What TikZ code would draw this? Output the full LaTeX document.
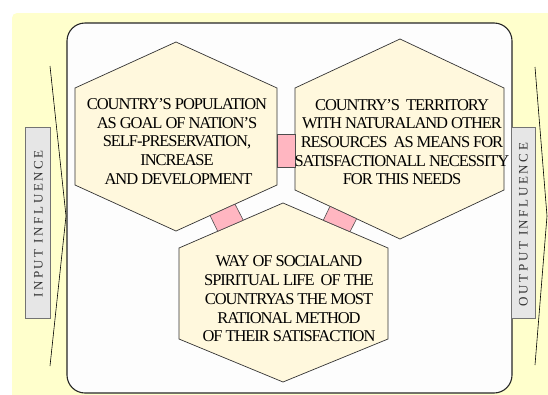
\documentclass[tikz,border=0pt]{standalone}
\usepackage{fontspec}
\setmainfont{Liberation Serif}
\usetikzlibrary{calc}
\definecolor{bgyellow}{RGB}{255,255,204}
\definecolor{hexfill}{RGB}{255,248,221}
\definecolor{boxfill}{RGB}{253,253,253}
\definecolor{pinkfill}{RGB}{255,182,193}
\definecolor{grayfill}{RGB}{230,230,230}
\newfontfamily\hexfont[LetterSpace=-6.5]{Liberation Serif}
\newfontfamily\sidefont[LetterSpace=20]{Liberation Serif}
\begin{document}
\begin{tikzpicture}[x=1pt,y=-1pt,
  hexshape/.style={draw=black!80, line width=0.7pt, fill=hexfill},
  hextext/.style={align=center, font=\hexfont\fontsize{16.5}{18.7}\selectfont, inner sep=0pt},
  link/.style={draw=black!70, line width=0.6pt, fill=pinkfill},
  sidebox/.style={draw=black!55, line width=0.7pt, fill=grayfill},
  sidetext/.style={font=\sidefont\fontsize{13}{13}\selectfont, rotate=90, text=black!80, inner sep=0pt},
  wedge/.style={draw=black, line width=0.6pt},
  mainbox/.style={draw=black!85, line width=1.1pt, fill=boxfill, rounded corners=18pt}]
\clip (0,0) rectangle (548,394);
\fill[bgyellow, rounded corners=5pt] (12,13) rectangle (570,420);
% main rounded box
\path[mainbox] (67,23) rectangle (512,393);
% hexagon 1
\coordinate (h1t) at (176,42);
\coordinate (h1tr) at (277,88);
\coordinate (h1br) at (277,185);
\coordinate (h1b) at (176,231);
\coordinate (h1bl) at (75,185);
\coordinate (h1tl) at (75,88);
% hexagon 2
\coordinate (h2t) at (400,39);
\coordinate (h2tr) at (504,88);
\coordinate (h2br) at (504,190);
\coordinate (h2b) at (400,239);
\coordinate (h2bl) at (295,190);
\coordinate (h2tl) at (295,88);
% hexagon 3
\coordinate (h3t) at (283,203);
\coordinate (h3tr) at (388,248);
\coordinate (h3br) at (388,339);
\coordinate (h3b) at (283,382);
\coordinate (h3bl) at (179,339);
\coordinate (h3tl) at (179,248);
\path[hexshape] (h1t) -- (h1tr) -- (h1br) -- (h1b) -- (h1bl) -- (h1tl) -- cycle;
\path[hexshape] (h2t) -- (h2tr) -- (h2br) -- (h2b) -- (h2bl) -- (h2tl) -- cycle;
\path[hexshape] (h3t) -- (h3tr) -- (h3br) -- (h3b) -- (h3bl) -- (h3tl) -- cycle;
% pink links
\path[link] (277,134) rectangle (295,167);
\path[link] ($(h1b)!0.337!(h1br)$) -- ($(h1b)!0.584!(h1br)$) -- ($(h3tl)!0.618!(h3t)$) -- ($(h3tl)!0.372!(h3t)$) -- cycle;
\path[link] ($(h2bl)!0.333!(h2b)$) -- ($(h2bl)!0.587!(h2b)$) -- ($(h3t)!0.638!(h3tr)$) -- ($(h3t)!0.384!(h3tr)$) -- cycle;
% texts
\node[hextext] (t1) at (177,141.5) {COUNTRY’S POPULATION\\AS GOAL OF NATION’S\\SELF-PRESERVATION,\\INCREASE\\\ AND DEVELOPMENT};
\node[hextext] (t2) at (402,142) {COUNTRY’S\ \ TERRITORY\\WITH NATURALAND OTHER\\RESOURCES\ \ AS MEANS FOR\\SATISFACTIONALL NECESSITY\\FOR THIS NEEDS};
\node[hextext] (t3) at (289,299) {WAY OF SOCIALAND\\SPIRITUAL LIFE\ \ OF THE\\COUNTRYAS THE MOST\\RATIONAL METHOD\\OF THEIR SATISFACTION};
% input side
\coordinate (lw1) at (50,66);
\coordinate (lwa) at (66,216);
\coordinate (lw2) at (50,366);
\draw[wedge] (lw1) -- (lwa) -- (lw2);
\path[sidebox] (25,127) rectangle (50.5,318);
\node[sidetext] (inp) at (38.5,224) {INPUT INFLUENCE};
% output side
\coordinate (rw1) at (535,67);
\coordinate (rwa) at (547,216);
\coordinate (rw2) at (535,365);
\draw[wedge] (rw1) -- (rwa) -- (rw2);
\path[sidebox] (511,127) rectangle (535,318);
\node[sidetext] (outp) at (523.5,224.5) {OUTPUT INFLUENCE};
\end{tikzpicture}
\end{document}
